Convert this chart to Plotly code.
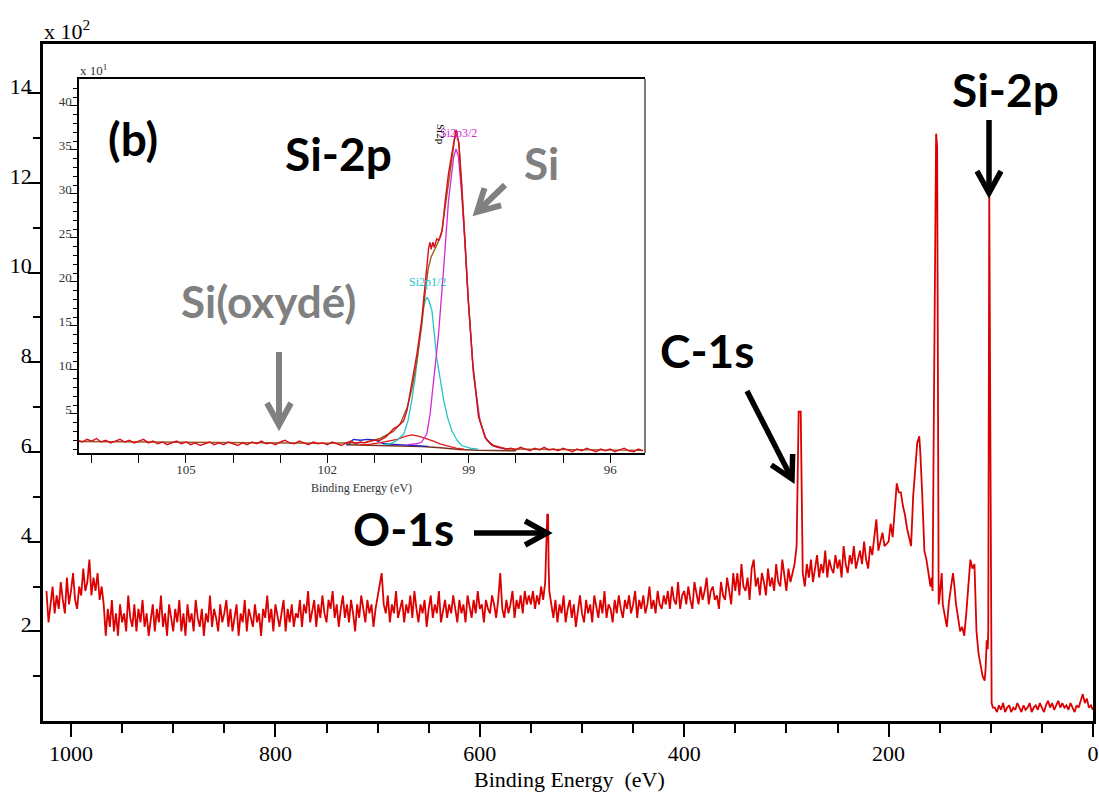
import math
import numpy as np
import pandas as pd
import plotly.graph_objects as go

# ---------------- survey spectrum, counts in units of 10^2 ----------------
# read on a 2 eV grid from 1024 eV down to 204 eV
survey_be = list(range(1024, 203, -2))
survey_counts = [
    # 1024 .. 968
    2.9, 2.2, 2.6, 3.0, 2.4, 2.8, 2.5, 3.1, 2.7, 2.4, 3.2, 2.6, 2.9, 3.3, 2.7, 2.5, 3.0, 2.8, 3.4, 2.9,
    3.1, 3.6, 2.8, 3.2, 2.9, 3.3, 2.7, 3.0, 2.6,
    # 966 .. 780
    1.9, 2.5, 2.1, 2.7, 2.0, 2.4, 1.9, 2.6, 2.2, 2.4, 2.0, 2.8, 2.3, 2.1, 2.6, 2.0, 2.5, 2.2, 2.7, 2.1,
    2.4, 1.9, 2.3, 2.6, 2.0, 2.5, 2.2, 2.8, 2.1, 2.4, 1.9, 2.6, 2.3, 2.0, 2.5, 2.2, 2.7, 2.0, 2.4, 1.9,
    2.6, 2.2, 2.4, 2.0, 2.7, 2.3, 2.1, 2.5, 1.9, 2.4, 2.2, 2.8, 2.1, 2.5, 2.3, 2.0, 2.6, 2.2, 2.4, 2.7,
    2.1, 2.5, 2.0, 2.3, 2.6, 1.9, 2.4, 2.2, 2.7, 2.0, 2.5, 2.3, 2.1, 2.6, 2.2, 2.4, 1.9, 2.5, 2.3, 2.8,
    2.2, 2.5, 2.0, 2.6, 2.3, 2.1, 2.4, 2.7, 2.0, 2.5, 2.2, 2.6, 2.1, 2.4,
    # 778 .. 552
    2.3, 2.7, 2.1, 2.6, 2.4, 2.9, 2.2, 2.5, 2.7, 2.1, 2.6, 2.3, 2.8, 2.4, 2.2, 2.7, 2.5, 2.9, 2.3, 2.6,
    2.1, 2.5, 2.8, 2.3, 2.6, 2.2, 2.7, 2.4, 2.0, 2.6, 2.3, 2.8, 2.5, 2.2, 2.7, 2.4, 2.6, 2.1, 2.5, 2.8,
    3.0, 3.3, 2.6, 2.4, 2.8, 2.2, 2.6, 2.4, 2.9, 2.3, 2.5, 2.7, 2.2, 2.6, 2.4, 2.8, 2.3, 2.9, 2.5, 2.2,
    2.6, 2.4, 2.7, 2.1, 2.5, 2.8, 2.3, 2.6, 2.4, 2.9, 2.2, 2.5, 2.7, 2.3, 2.6, 2.4, 2.8, 2.5, 2.2, 2.7,
    2.4, 2.6, 2.2, 2.8, 2.5, 2.3, 2.7, 2.4, 2.9, 2.5, 2.6, 2.2, 2.7, 2.5, 2.4, 2.8, 2.6, 2.3, 2.7, 3.3,
    2.5, 2.3, 2.7, 2.4, 2.6, 2.9, 2.3, 2.7, 2.5, 2.8, 2.4, 2.9, 2.6, 2.8,
    # 550 .. 536
    2.6, 2.9, 2.5, 2.8, 2.6, 3.0, 2.7, 3.1,
    # 534 .. 420 (O-1s top at 534)
    4.6, 2.9, 2.6, 2.3, 2.7, 2.2, 2.6, 2.4, 2.8, 2.2, 2.5, 2.7, 2.3, 2.6, 2.1, 2.5, 2.8, 2.4, 2.2, 2.7,
    2.4, 2.6, 2.2, 2.8, 2.5, 2.3, 2.7, 2.4, 2.9, 2.3, 2.6, 2.5, 2.2, 2.7, 2.4, 2.8, 2.5, 2.3, 2.7, 2.5,
    2.8, 2.4, 2.6, 2.9, 2.3, 2.7, 2.5, 2.8, 2.4, 2.6, 3.0, 2.5, 2.7, 2.4, 2.9, 2.6, 2.5, 2.8,
    # 418 .. 352
    2.6, 2.9, 2.5, 3.0, 2.7, 2.6, 3.1, 2.5, 2.8, 2.9, 2.6, 3.0, 2.7, 2.5, 3.1, 2.8, 2.6, 3.0, 2.7, 2.9,
    3.2, 2.6, 2.9, 3.0, 2.7, 2.8, 2.5, 3.1, 2.8, 2.7, 3.2, 2.9, 2.6, 3.3,
    # 350 .. 292
    2.9, 3.3, 2.8, 3.5, 3.0, 2.9, 3.2, 2.7, 3.4, 3.6, 3.0, 3.2, 2.8, 3.3, 3.1, 2.8, 3.4, 3.0, 3.2, 2.9,
    3.5, 3.1, 3.0, 3.6, 3.2, 2.9, 3.4, 3.1, 3.3, 3.5,
    # 290 .. 204 (C-1s top at 288-286)
    3.9, 6.9, 6.9, 3.3, 3.0, 3.5, 3.2, 3.6, 3.1, 3.4, 3.7, 3.2, 3.5, 3.3, 3.8, 3.2, 3.6, 3.4, 3.3, 3.7,
    3.4, 3.6, 3.2, 3.9, 3.5, 3.3, 3.7, 3.5, 3.9, 3.4, 3.6, 3.8, 3.5, 4.0, 3.6, 3.4, 3.9, 3.7, 4.1, 4.5,
    3.8, 4.0, 4.2, 3.9,
]
assert len(survey_be) == len(survey_counts)

# O-1s peak shoulder
o1s_be = [533.2, 532.6]
o1s_counts = [4.6, 3.4]

# Si-2s / Si-2p region
si_be = [200, 198, 196, 194, 192, 190, 188, 186, 184, 182,
         180, 178, 176, 174, 172, 170, 169, 167, 165, 163,
         161, 159, 158, 157, 155.5, 153.5, 152.5, 151, 150, 148,
         147, 145, 143, 141, 139, 137, 136, 134, 132, 130,
         128, 126, 124, 122, 120, 118, 116, 114, 112, 110,
         108, 106, 105, 104, 103, 102.5, 101.5, 99.2, 98]
si_counts = [4.0, 4.4, 4.1, 4.7, 5.3, 5.1, 5.1, 4.8, 4.6, 4.3,
             4.1, 3.9, 5.0, 5.6, 6.2, 6.35, 6.0, 5.0, 3.8, 3.6,
             3.3, 3.0, 3.2, 2.9, 7.5, 13.1, 12.8, 2.6, 2.8, 3.3,
             2.6, 2.3, 2.1, 2.65, 3.0, 3.3, 3.1, 2.6, 2.3, 2.0,
             2.1, 1.9, 2.4, 3.0, 3.6, 3.4, 3.5, 2.0, 1.5, 1.25,
             1.0, 0.9, 1.2, 1.8, 1.6, 2.0, 11.7, 0.4, 0.3]
assert len(si_be) == len(si_counts)

tail_be = list(range(96, -1, -2))
tail_counts = [
    0.3, 0.2, 0.35, 0.25, 0.4, 0.2, 0.3, 0.35, 0.2, 0.3, 0.25, 0.4, 0.3, 0.2, 0.35, 0.25, 0.3, 0.4, 0.2, 0.3,
    0.35, 0.25, 0.4, 0.3, 0.2, 0.35, 0.45, 0.3, 0.4, 0.25, 0.35, 0.45, 0.3, 0.4, 0.3, 0.35, 0.25, 0.4, 0.3, 0.2,
    0.35, 0.3, 0.45, 0.6, 0.4, 0.5, 0.3, 0.35, 0.25,
]
assert len(tail_be) == len(tail_counts)

survey = pd.DataFrame({
    "be": survey_be + o1s_be + si_be + tail_be,
    "counts": survey_counts + o1s_counts + si_counts + tail_counts,
}).sort_values("be", ascending=False)

# ---------------- Si-2p high resolution (inset), counts in units of 10^1 ----------------
hr_left_be = np.linspace(107.3, 101.0, 64)
hr_left_counts = [
    2.0, 1.8, 2.1, 1.9, 2.2, 1.8, 2.0, 1.7, 1.9, 2.1,
    1.8, 2.0, 1.7, 1.9, 2.1, 1.7, 1.9, 1.6, 1.8, 1.5,
    1.7, 1.9, 1.6, 1.8, 1.5, 1.7, 1.4, 1.6, 1.8, 1.5,
    1.7, 1.5, 1.8, 1.6, 1.4, 1.7, 1.5, 1.8, 1.6, 1.9,
    1.6, 1.7, 1.5, 1.8, 2.0, 1.7, 1.6, 1.9, 1.7, 1.5,
    1.8, 1.6, 1.7, 1.5, 1.8, 1.6, 1.4, 1.7, 1.9, 1.6,
    1.8, 1.7, 1.9, 2.0,
]
hr_peak_be = [100.88, 100.75, 100.6, 100.5, 100.38, 100.31, 100.21, 100.1, 100.0, 99.92,
              99.89, 99.85, 99.82, 99.8, 99.76, 99.73, 99.68, 99.64, 99.59, 99.56,
              99.5, 99.43, 99.36, 99.29, 99.27, 99.21, 99.15, 99.08, 99.01, 98.91,
              98.79, 98.65, 98.55, 98.47, 98.35, 98.2]
hr_peak_counts = [2.0, 2.4, 3.3, 3.6, 4.2, 5.4, 8.4, 11.8, 15.6, 20.1,
                  22.0, 23.9, 24.5, 23.7, 24.5, 23.9, 24.9, 24.7, 25.3, 26.0,
                  29.2, 32.3, 34.5, 36.8, 37.3, 35.7, 31.1, 24.7, 17.9, 10.3,
                  4.6, 2.3, 1.7, 1.4, 1.2, 1.0]
hr_right_be = np.linspace(98.1, 95.3, 29)
hr_right_counts = [
    1.1, 0.9, 1.2, 1.0, 0.8, 1.1, 0.9, 1.2, 0.9, 1.0,
    0.8, 1.1, 0.9, 0.7, 1.0, 0.8, 1.1, 0.9, 0.7, 1.0,
    0.8, 1.0, 0.7, 0.9, 1.1, 0.8, 0.7, 1.0, 0.8,
]
hr_be = list(hr_left_be) + hr_peak_be + list(hr_right_be)
hr_counts = hr_left_counts + hr_peak_counts + hr_right_counts
assert len(hr_be) == len(hr_counts)

env_be = [107.3, 106.0, 104.0, 102.0, 101.2, 100.88, 100.6, 100.45, 100.3, 100.2,
          100.1, 100.0, 99.92, 99.86, 99.8, 99.72, 99.64, 99.57, 99.5, 99.43,
          99.36, 99.3, 99.26, 99.21, 99.15, 99.08, 99.01, 98.91, 98.79, 98.65,
          98.5, 98.2, 97.0, 95.3]
env_counts = [1.85, 1.8, 1.7, 1.65, 1.75, 2.2, 3.0, 3.9, 5.8, 8.0,
              11.0, 15.0, 19.0, 21.5, 22.8, 23.8, 24.6, 25.8, 28.5, 31.8,
              34.3, 36.2, 36.8, 35.8, 31.3, 25.0, 18.0, 10.5, 4.8, 2.3,
              1.4, 1.0, 0.95, 0.85]

p32_be = [100.3, 100.1, 100.0, 99.89, 99.82, 99.75, 99.64, 99.53, 99.43, 99.32,
          99.27, 99.22, 99.15, 99.08, 99.01, 98.9, 98.76, 98.62, 98.5, 98.4, 98.2]
p32_counts = [1.5, 1.6, 1.8, 2.7, 5.0, 8.4, 14.1, 21.7, 29.2, 34.2,
              35.1, 34.3, 30.0, 24.2, 17.9, 9.5, 4.2, 2.0, 1.4, 1.2, 1.0]

p12_be = [100.8, 100.67, 100.52, 100.38, 100.29, 100.21, 100.14, 100.07, 99.96, 99.92,
          99.88, 99.84, 99.78, 99.68, 99.6, 99.53, 99.45, 99.36, 99.25, 99.15, 98.97, 98.8]
p12_counts = [1.5, 1.6, 2.0, 2.7, 4.2, 6.5, 9.0, 12.2, 17.1, 17.9,
              18.25, 17.8, 16.7, 11.4, 8.5, 6.5, 4.6, 3.1, 2.0, 1.4, 1.1, 1.0]

sox_be = [101.3, 101.16, 100.9, 100.7, 100.52, 100.35, 100.21, 100.05, 99.89, 99.75,
          99.61, 99.45, 99.27, 99.1]
sox_counts = [1.5, 1.5, 1.7, 1.9, 2.1, 2.45, 2.6, 2.45, 2.2, 1.9,
              1.6, 1.35, 1.1, 1.0]

blue_be = [101.6, 101.53, 101.45, 101.3, 101.15, 100.99, 100.9, 100.8, 100.5, 100.2, 99.86]
blue_counts = [1.55, 1.6, 2.1, 2.0, 2.1, 2.05, 1.8, 1.6, 1.5, 1.4, 1.3]

bg_be = [101.6, 101.0, 100.5, 100.0, 99.6, 99.2, 98.8, 98.4, 98.0]
bg_counts = [1.5, 1.45, 1.4, 1.3, 1.15, 0.95, 0.85, 0.8, 0.8]

# ---------------- geometry (page pixels, figure fills the whole window) ----------------
W, H = 1099, 795
ML, MR, MT, MB = 43, 6, 44, 74
PW, PH = W - ML - MR, H - MT - MB


def P(px, py):
    # page pixel -> paper coordinates
    return (px - ML) / PW, (MT + PH - py) / PH


SERIF = "Liberation Serif"
BOLD = "Lato"
GRAY = "#808080"

fig = go.Figure()
fig.add_trace(go.Scatter(x=survey["be"], y=survey["counts"], mode="lines",
                         line=dict(color="#dc0000", width=1.8), xaxis="x", yaxis="y"))

inset_lines = [
    (bg_be, bg_counts, "#7b3320", 1.5),
    (blue_be, blue_counts, "#1f24c8", 1.3),
    (sox_be, sox_counts, "#e01b1b", 1.3),
    (p12_be, p12_counts, "#22c4c8", 1.3),
    (p32_be, p32_counts, "#d42ad4", 1.3),
    (env_be, env_counts, "#9a5a1c", 1.4),
    (hr_be, hr_counts, "#d8101e", 1.4),
]
for xs, ys, col, w in inset_lines:
    fig.add_trace(go.Scatter(x=xs, y=ys, mode="lines", line=dict(color=col, width=w),
                             xaxis="x2", yaxis="y2"))

x0, y0 = P(79, 453)
x1, y1 = P(645, 79)

fig.update_layout(
    width=W, height=H, autosize=False, showlegend=False,
    margin=dict(l=ML, r=MR, t=MT, b=MB, pad=0),
    plot_bgcolor="white", paper_bgcolor="white",
    xaxis=dict(
        domain=[0, 1], range=[1027.4, 0], showgrid=False, zeroline=False,
        automargin=False,
        showline=True, linecolor="black", linewidth=2.5, mirror=True,
        tickvals=[0, 200, 400, 600, 800, 1000], ticks="outside", ticklen=13,
        tickwidth=2, tickcolor="black", ticklabelstandoff=-2,
        tickfont=dict(family=SERIF, size=22, color="black"),
        minor=dict(tickvals=[50, 100, 150, 250, 300, 350, 450, 500, 550,
                             650, 700, 750, 850, 900, 950],
                   ticks="outside", ticklen=9, tickwidth=2, tickcolor="black",
                   showgrid=False),
    ),
    yaxis=dict(
        domain=[0, 1], range=[0, 15.1], showgrid=False, zeroline=False,
        automargin=False,
        showline=True, linecolor="black", linewidth=2.5, mirror=True,
        tickvals=[2, 4, 6, 8, 10, 12, 14], ticks="outside", ticklen=12,
        tickwidth=2, tickcolor="black", ticklabelshift=-7, ticklabelstandoff=-8,
        tickfont=dict(family=SERIF, size=22, color="black"),
        minor=dict(tickvals=[1, 3, 5, 7, 9, 11, 13], ticks="outside", ticklen=7,
                   tickwidth=2, tickcolor="black", showgrid=False),
    ),
    xaxis2=dict(
        domain=[x0, x1], anchor="y2", range=[107.27, 95.26], showgrid=False,
        zeroline=False, automargin=False,
        showline=True, linecolor="black", linewidth=1.8, mirror=True,
        tickvals=[105, 102, 99, 96], ticks="outside", ticklen=8, tickwidth=1.3,
        tickcolor="black", ticklabelstandoff=-5,
        tickfont=dict(family=SERIF, size=13, color="#333333"),
        minor=dict(tickvals=[107, 106, 104, 103, 101, 100, 98, 97], ticks="outside",
                   ticklen=8, tickwidth=1.3, tickcolor="black", showgrid=False),
    ),
    yaxis2=dict(
        domain=[y0, y1], anchor="x2", range=[0.55, 43.05], showgrid=False,
        zeroline=False, automargin=False,
        showline=True, linecolor="black", linewidth=1.5,
        tickvals=[5, 10, 15, 20, 25, 30, 35, 40], ticks="outside", ticklen=7,
        tickwidth=1.2, tickcolor="black", ticklabelshift=-4, ticklabelstandoff=-4,
        tickfont=dict(family=SERIF, size=13, color="#333333"),
        minor=dict(tickvals=[v for v in range(1, 43) if v % 5], ticks="outside",
                   ticklen=4, tickwidth=1, tickcolor="black", showgrid=False),
    ),
)

annotations = []


def label(px, py, text, size, color="black", family=BOLD, weight="bold", angle=0,
          xanchor="center", yanchor="middle"):
    ax_, ay_ = P(px, py)
    annotations.append(dict(x=ax_, y=ay_, xref="paper", yref="paper", text=text,
                            showarrow=False, xanchor=xanchor, yanchor=yanchor,
                            textangle=angle,
                            font=dict(family=family, size=size, color=color,
                                      weight=weight)))


label(569, 779, "Binding Energy  (eV)", 22, family=SERIF, weight="normal")
label(42, 46, "x 10<sup>2</sup>", 22, family=SERIF, weight="normal",
      xanchor="left", yanchor="bottom")
label(361, 488, "Binding Energy (eV)", 12, color="#333333", family=SERIF, weight="normal")
label(78, 80, "x 10<sup>1</sup>", 13, color="#333333", family=SERIF, weight="normal",
      xanchor="left", yanchor="bottom")

label(133, 138, "(b)", 46)
label(338, 153, "Si-2p", 46)
label(541, 163, "Si", 44, color=GRAY)
label(268, 301, "Si(oxydé)", 44, color=GRAY)
label(1005, 90, "Si-2p", 46)
label(707, 350, "C-1s", 46)
label(403, 528, "O-1s", 46)

label(458, 133, "Si2p3/2", 12, color="#d42ad4", family=SERIF, weight="normal")
label(441, 134, "Si2p", 11, family=SERIF, weight="normal", angle=90)
label(427, 282, "Si2p1/2", 12, color="#22c4c8", family=SERIF, weight="normal")

shapes = []


def arrow(tx, ty, hx, hy, color, width, head=25, spread=0.5):
    # straight shaft with an open chevron head, given in page pixels
    dx, dy = hx - tx, hy - ty
    n = math.hypot(dx, dy)
    rx, ry = -dx / n, -dy / n
    wings = []
    for s in (1, -1):
        c, sn = math.cos(s * spread), math.sin(s * spread)
        wings.append((hx + head * (rx * c - ry * sn), hy + head * (rx * sn + ry * c)))
    a, b = P(tx, ty)
    c_, d = P(hx, hy)
    shapes.append(dict(type="line", xref="paper", yref="paper", x0=a, y0=b, x1=c_, y1=d,
                       line=dict(color=color, width=width)))
    pts = [P(*wings[0]), (c_, d), P(*wings[1])]
    path = "M {:.5f},{:.5f} L {:.5f},{:.5f} L {:.5f},{:.5f}".format(
        pts[0][0], pts[0][1], pts[1][0], pts[1][1], pts[2][0], pts[2][1])
    shapes.append(dict(type="path", xref="paper", yref="paper", path=path,
                       line=dict(color=color, width=width)))


arrow(989, 120, 989, 193, "black", 5.5)
arrow(747, 391, 792, 479, "black", 5.5)
arrow(474, 533, 547, 533, "black", 5.5)
arrow(505, 185, 477, 212, GRAY, 6)
arrow(279, 352, 279, 425, GRAY, 6)

# grey right edge of the inset frame
shapes.append(dict(type="line", xref="paper", yref="paper", x0=x1, x1=x1, y0=y0, y1=y1,
                   line=dict(color="#7a7a7a", width=2)))

fig.update_layout(annotations=annotations, shapes=shapes)
# drop the default page margin so the figure sits at the window origin
fig.write_html("out.html",
               config={"displayModeBar": False},
               post_script="document.body.style.margin='0';"
                           "document.body.style.overflow='hidden';")
